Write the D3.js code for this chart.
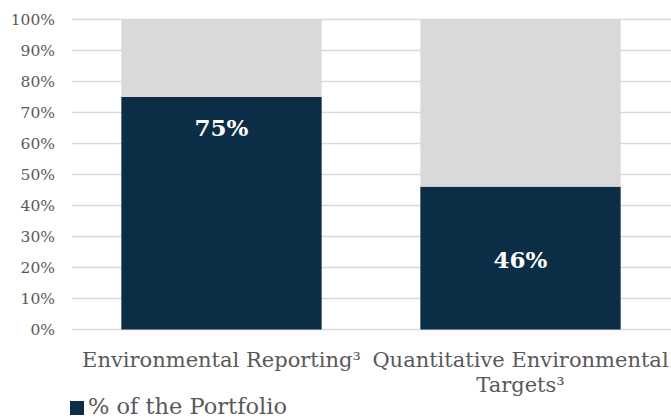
<!DOCTYPE html>
<html>
<head>
<meta charset="utf-8">
<script src="https://cdn.jsdelivr.net/npm/d3@7"></script>
<style>
  body { margin: 0; background: #fff; }
  svg text { font-family: Georgia, "DejaVu Serif", serif; }
</style>
</head>
<body>
<div id="chart"></div>
<script>
// data
var categories = [["Environmental Reporting³"], ["Quantitative Environmental", "Targets³"]];
var portfolio = [75, 46];
var rest = [25, 54];
var labelAt = [65, 22.5]; // where the value label sits (in % of axis)
var yTicks = [0, 10, 20, 30, 40, 50, 60, 70, 80, 90, 100];
var legendLabel = "% of the Portfolio";

var W = 671, H = 419;
var navy = "#0b2e46", grey = "#d9d9d9", textCol = "#595959";

var svg = d3.select("#chart").append("svg").attr("width", W).attr("height", H);

var x = d3.scaleBand().domain(d3.range(categories.length)).range([72, 670]).paddingInner(0.33).paddingOuter(0.165);
var y = d3.scaleLinear().domain([0, 100]).range([329.5, 19.5]);

// gridlines
svg.append("g").selectAll("line").data(yTicks).join("line")
  .attr("x1", 72).attr("x2", 671)
  .attr("y1", function (d) { return y(d) }).attr("y2", function (d) { return y(d) })
  .attr("stroke", grey).attr("stroke-width", 1.5);

// y axis labels
svg.append("g").selectAll("text").data(yTicks).join("text")
  .attr("x", 55).attr("y", function (d) { return y(d) })
  .attr("dy", "0.35em")
  .attr("text-anchor", "end")
  .attr("font-size", 15.5).attr("fill", textCol)
  .text(function (d) { return d + "%" });

// stacked bars
var bars = svg.append("g");
bars.selectAll("rect.top").data(rest).join("rect")
  .attr("x", function (d, i) { return x(i) })
  .attr("width", x.bandwidth())
  .attr("y", function (d, i) { return y(portfolio[i] + d) })
  .attr("height", function (d, i) { return y(portfolio[i]) - y(portfolio[i] + d) })
  .attr("fill", grey);
bars.selectAll("rect.bot").data(portfolio).join("rect")
  .attr("x", function (d, i) { return x(i) })
  .attr("width", x.bandwidth())
  .attr("y", function (d) { return y(d) })
  .attr("height", function (d) { return y(0) - y(d) })
  .attr("fill", navy);

// value labels
svg.append("g").selectAll("text").data(portfolio).join("text")
  .attr("x", function (d, i) { return x(i) + x.bandwidth() / 2 })
  .attr("y", function (d, i) { return y(labelAt[i]) })
  .attr("dy", "0.35em")
  .attr("text-anchor", "middle")
  .attr("font-size", 23).attr("font-weight", "bold").attr("fill", "#fff")
  .text(function (d) { return d + "%" });

// category labels
var cat = svg.append("g").selectAll("text").data(categories).join("text")
  .attr("x", function (d, i) { return x(i) + x.bandwidth() / 2 })
  .attr("y", 367)
  .attr("text-anchor", "middle")
  .attr("font-size", 21).attr("fill", textCol);
cat.selectAll("tspan").data(function (d) { return d }).join("tspan")
  .attr("x", function () { return d3.select(this.parentNode).attr("x") })
  .attr("dy", function (d, j) { return j === 0 ? 0 : 25 })
  .text(function (d) { return d });

// legend
svg.append("rect").attr("x", 70).attr("y", 401).attr("width", 14).attr("height", 14).attr("fill", navy);
svg.append("text").attr("x", 88).attr("y", 413.5)
  .attr("font-size", 22.5).attr("fill", textCol)
  .text(legendLabel);
</script>
</body>
</html>
